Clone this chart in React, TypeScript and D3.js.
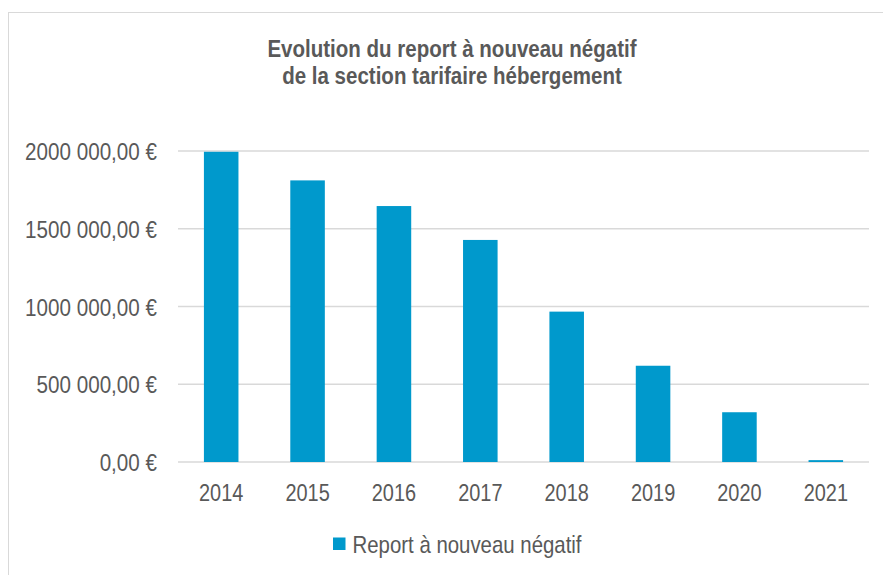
import React from "react";
import * as d3 from "d3";

const categories = ["2014", "2015", "2016", "2017", "2018", "2019", "2020", "2021"];
const values = [1995000, 1811000, 1646000, 1428000, 967000, 619000, 320000, 12000];
const yTicks = [0, 500000, 1000000, 1500000, 2000000];
const titleLines = ["Evolution du report à nouveau négatif", "de la section tarifaire hébergement"];
const seriesName = "Report à nouveau négatif";

const W = 883;
const H = 575;
const FONT = "'Liberation Sans', Arial, sans-serif";
const SX = 0.83;

function fmt(v: number): string {
  const s = v.toFixed(2).replace(".", ",");
  const [intPart, dec] = s.split(",");
  let out = intPart;
  if (intPart.length > 4) {
    out = intPart.slice(0, intPart.length - 3) + " " + intPart.slice(-3);
  }
  return out + "," + dec + " €";
}

function NText(props: { x: number; y: number; sx?: number; children: React.ReactNode; [k: string]: any }) {
  const { x, y, sx = SX, children, ...rest } = props;
  return (
    <text transform={`translate(${x},${y}) scale(${sx},1)`} {...rest}>
      {children}
    </text>
  );
}

export default function App() {
  const left = 178, right = 869, top = 151, bottom = 462;
  const x = d3.scaleBand<string>().domain(categories).range([left, right]).padding(0);
  const y = d3.scaleLinear().domain([0, 2000000]).range([bottom, top]);
  const bw = x.bandwidth() * 0.4;
  const color = "#0099CC";
  const textColor = "#595959";
  return (
    <svg width={W} height={H} style={{ position: "absolute", left: 0, top: 0 }} fontFamily={FONT}>
      <rect x={0} y={0} width={W} height={H} fill="#fff" />
      <rect x={8.5} y={12.5} width={W + 20} height={H + 20} fill="#fff" stroke="#d9d9d9" strokeWidth={1} />
      {titleLines.map((t, i) => (
        <NText key={i} x={452} y={57 + i * 27} sx={0.855} textAnchor="middle" fontSize={24} fontWeight="bold" fill={textColor}>
          {t}
        </NText>
      ))}
      {yTicks.map((t) => (
        <g key={t}>
          <line x1={left} x2={right} y1={y(t)} y2={y(t)} stroke="#d9d9d9" strokeWidth={1.5} />
          <NText x={157} y={y(t) + 9} sx={0.86} textAnchor="end" fontSize={24} fill={textColor}>
            {fmt(t)}
          </NText>
        </g>
      ))}
      {categories.map((c, i) => (
        <rect
          key={c}
          x={(x(c) as number) + (x.bandwidth() - bw) / 2}
          y={y(values[i])}
          width={bw}
          height={y(0) - y(values[i])}
          fill={color}
        />
      ))}
      {categories.map((c) => (
        <NText key={c} x={(x(c) as number) + x.bandwidth() / 2} y={501} textAnchor="middle" fontSize={24} fill={textColor}>
          {c}
        </NText>
      ))}
      <rect x={333} y={537.5} width={12.5} height={12.5} fill={color} />
      <NText x={352.5} y={552.5} sx={0.85} fontSize={24} fill={textColor}>
        {seriesName}
      </NText>
    </svg>
  );
}
